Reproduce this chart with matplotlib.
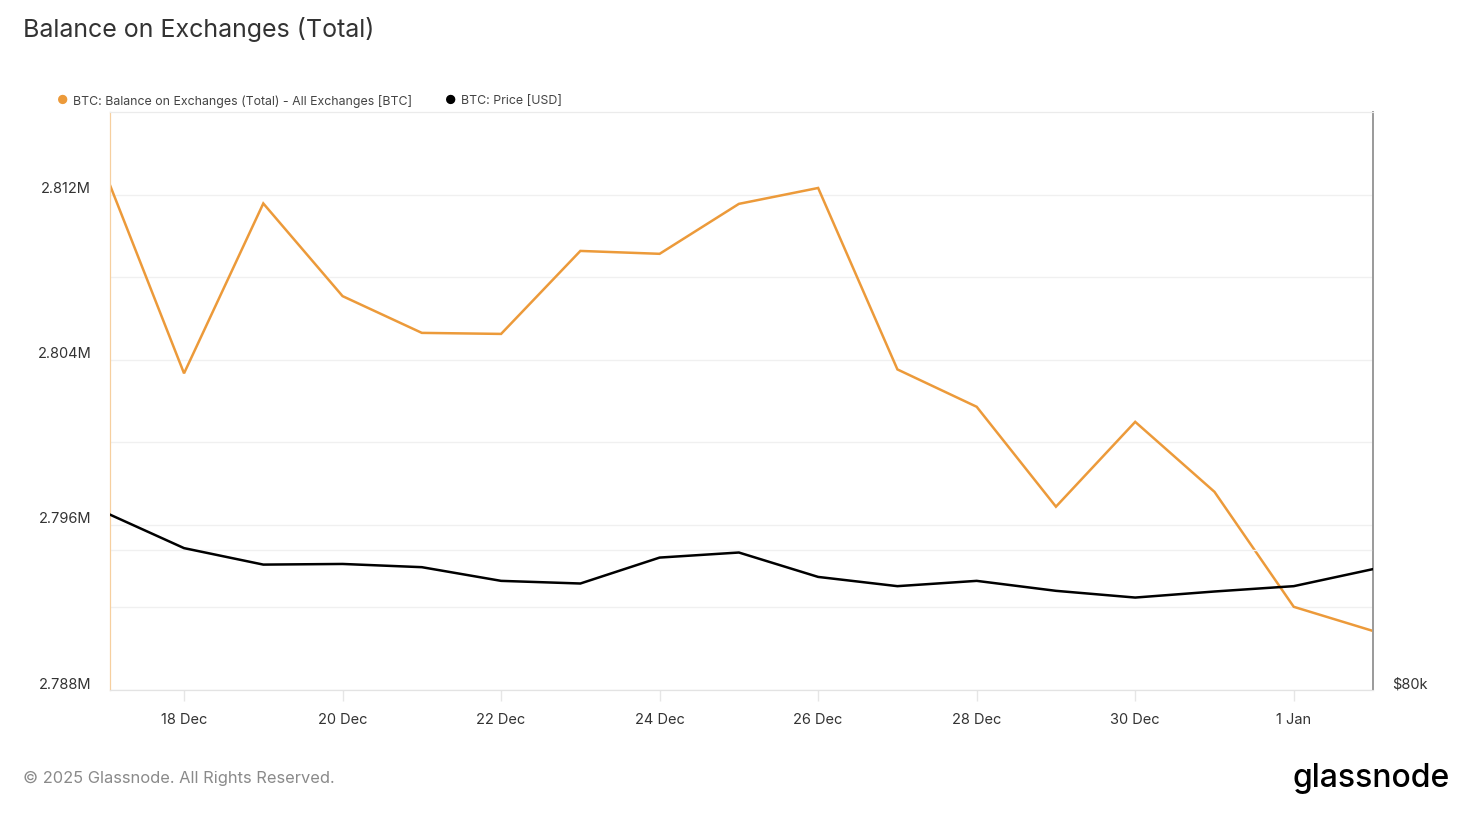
import matplotlib
matplotlib.use("Agg")
import matplotlib.pyplot as plt
import matplotlib.dates as mdates
from matplotlib.transforms import ScaledTranslation
from matplotlib.ticker import FixedLocator, NullLocator
import numpy as np

plt.rcParams['font.family'] = ['Inter', 'DejaVu Sans']

# dados
datas = ['2024-12-17', '2024-12-18', '2024-12-19', '2024-12-20', '2024-12-21',
         '2024-12-22', '2024-12-23', '2024-12-24', '2024-12-25', '2024-12-26',
         '2024-12-27', '2024-12-28', '2024-12-29', '2024-12-30', '2024-12-31',
         '2025-01-01', '2025-01-02']
saldo_btc = [2813100, 2803340, 2811570, 2807080, 2805300, 2805250, 2809270,
             2809130, 2811550, 2812320, 2803530, 2801720, 2796880, 2800990,
             2797600, 2792030, 2790860]
preco_usd = [106200, 100300, 97700, 97800, 97300, 95200, 94800, 98800, 99600,
             95800, 94400, 95200, 93700, 92700, 93600, 94400, 97000]

ticks_esquerda = [2788000, 2796000, 2804000, 2812000]
grade_esquerda = [2792000, 2800000, 2808000]
ticks_datas = ['2024-12-18', '2024-12-20', '2024-12-22', '2024-12-24',
               '2024-12-26', '2024-12-28', '2024-12-30', '2025-01-01']

LARANJA = '#ec9a3a'
CINZA_GRADE = '#f0f0f0'

x = np.array(datas, dtype='datetime64[h]')

fig = plt.figure(figsize=(14.64, 8.18), dpi=100)
ax = fig.add_axes([110 / 1464, 128 / 818, 1263 / 1464, 578 / 818])
ax2 = ax.twinx()

ax.plot(x, saldo_btc, color=LARANJA, linewidth=1.8, zorder=3,
        solid_joinstyle='miter')
ax2.plot(x, preco_usd, color='black', linewidth=1.8, zorder=3,
         solid_joinstyle='miter')

# a janela comeca um pouco depois da meia-noite do dia 17
inicio = mdates.date2num(x[0]) + 0.066
ax.set_xlim(inicio, mdates.date2num(x[-1]))
ax.set_ylim(2788000, 2816000)
ax2.set_yscale('log')
ax2.set_ylim(80000, 201000)

# grade
for v in ticks_esquerda + grade_esquerda:
    ax.axhline(v, color=CINZA_GRADE, linewidth=1, zorder=0)
ax2.axhline(100000, color=CINZA_GRADE, linewidth=1, zorder=0)

# eixo y esquerdo
ax.set_yticks(ticks_esquerda)
ax.set_yticklabels([f'{v / 1e6:.3f}M' for v in ticks_esquerda])
ax.tick_params(axis='y', length=0, pad=13.5, labelsize=10.5, labelcolor='#333333')
for lbl in ax.get_yticklabels():
    lbl.set_transform(lbl.get_transform() + ScaledTranslation(0, 7 / 100, fig.dpi_scale_trans))

# eixo y direito
ax2.yaxis.set_major_locator(FixedLocator([80000]))
ax2.yaxis.set_minor_locator(NullLocator())
ax2.set_yticklabels(['$80k'])
ax2.tick_params(axis='y', length=0, pad=13.5, labelsize=10.5, labelcolor='#333333')
for lbl in ax2.get_yticklabels():
    lbl.set_transform(lbl.get_transform() + ScaledTranslation(0, 7 / 100, fig.dpi_scale_trans))

# eixo x
ax.set_xticks(mdates.date2num(np.array(ticks_datas, dtype='datetime64[h]')))
ax.xaxis.set_major_formatter(mdates.DateFormatter('%-d %b'))
ax.tick_params(axis='x', length=8, width=1, color='#e6e6e6', pad=8.5,
               labelsize=10.5, labelcolor='#333333')

for a in (ax, ax2):
    a.spines['top'].set_color('#ebebeb')
    a.spines['bottom'].set_color('#e3e3e3')
    a.spines['left'].set_color('#f6cf9f')
    a.spines['right'].set_color('#9a9a9a')
    a.spines['right'].set_linewidth(1.2)

# titulo, legenda e rodape
fig.text(23 / 1464, 1 - 30 / 818, 'Balance on Exchanges (Total)', fontsize=18,
         color='#333333', va='center', ha='left')
fig.text(63 / 1464, 1 - 101 / 818, '●', color=LARANJA, fontsize=9, va='center', ha='center')
fig.text(73 / 1464, 1 - 101 / 818, 'BTC: Balance on Exchanges (Total) - All Exchanges [BTC]',
         fontsize=8.9, color='#444444', va='center', ha='left')
fig.text(451 / 1464, 1 - 101 / 818, '●', color='black', fontsize=9, va='center', ha='center')
fig.text(461 / 1464, 1 - 101 / 818, 'BTC: Price [USD]',
         fontsize=8.9, color='#444444', va='center', ha='left')
fig.text(23 / 1464, 1 - 778 / 818, '© 2025 Glassnode. All Rights Reserved.',
         fontsize=11.85, color='#8a8a8a', va='center', ha='left')
fig.text(1450 / 1464, 1 - 778 / 818, 'glassnode', fontsize=23, fontweight='medium',
         color='black', va='center', ha='right')

fig.savefig('out.png', dpi=100)
